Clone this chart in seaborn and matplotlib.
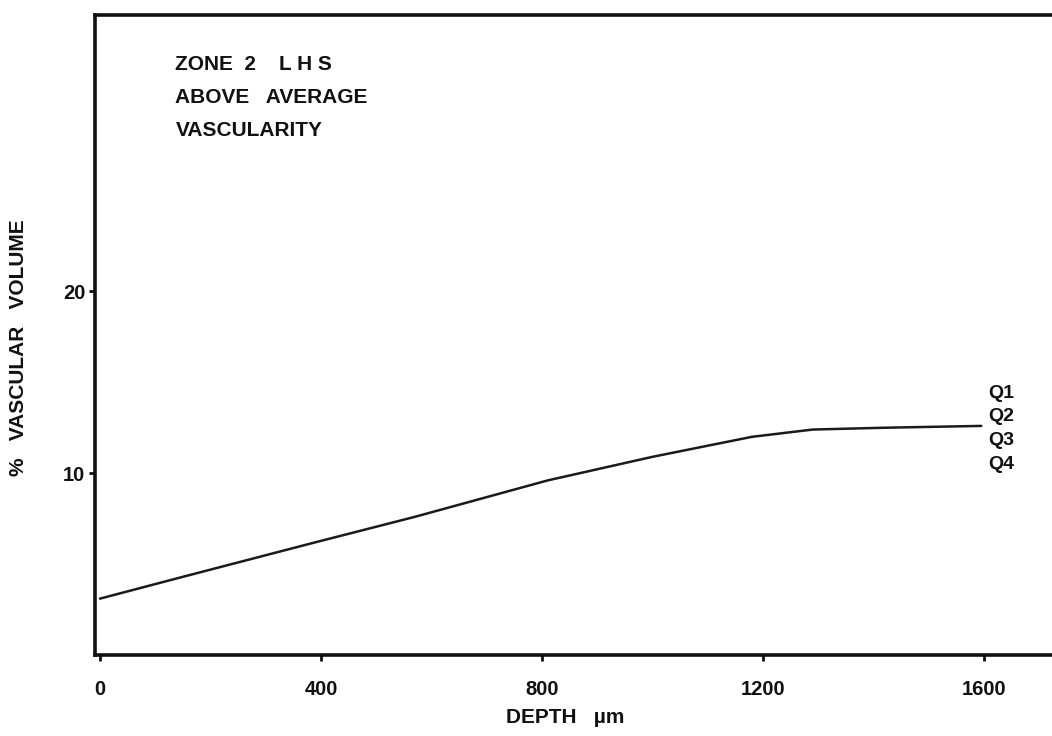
import matplotlib
matplotlib.use("Agg")
import matplotlib.pyplot as plt
import seaborn as sns
import pandas as pd

depth_um = [0, 150, 390, 570, 810, 1000, 1180, 1290, 1420, 1595]
vascular_pct = [3.1, 4.3, 6.2, 7.6, 9.6, 10.9, 12.0, 12.4, 12.5, 12.6]
x_ticks = [0, 400, 800, 1200, 1600]
y_ticks = [10, 20]
quartile_labels = ["Q1", "Q2", "Q3", "Q4"]
title_lines = ["ZONE  2    L H S", "ABOVE   AVERAGE", "VASCULARITY"]

sns.set_theme(style="white")
plt.rcParams['font.family'] = ['Liberation Sans', 'DejaVu Sans']
ink = "#111111"

fig = plt.figure(figsize=(10.52, 7.36), dpi=100)
ax = fig.add_axes([95 / 1052, 1 - 655 / 736, 1 - 95 / 1052, (655 - 15) / 736])

df = pd.DataFrame({"depth": depth_um, "pct": vascular_pct})
sns.lineplot(data=df, x="depth", y="pct", ax=ax, color="#1a1a1a", linewidth=1.8)

ax.set_xlim(-9, 1723)
ax.set_ylim(0, 35.2)
ax.set_xticks(x_ticks)
ax.set_xticklabels([str(t) for t in x_ticks], fontsize=14.5, fontweight="bold", color=ink)
ax.set_yticks(y_ticks)
ax.set_yticklabels([str(t) for t in y_ticks], fontsize=14.5, fontweight="bold", color=ink)
ax.tick_params(axis="both", direction="out", length=4, width=2, color=ink,
               bottom=True, left=True)
ax.tick_params(axis="x", pad=14)
ax.tick_params(axis="y", pad=3)

for side in ["left", "bottom", "top"]:
    ax.spines[side].set_linewidth(2.6)
    ax.spines[side].set_color(ink)
ax.spines["right"].set_visible(False)

ax.set_xlabel("DEPTH   µm", fontsize=15, fontweight="bold", color=ink)
ax.xaxis.set_label_coords((565 - 95) / 957, -(708 - 655) / 640)
ax.set_ylabel("%   VASCULAR   VOLUME", fontsize=15, fontweight="bold", color=ink)
ax.yaxis.set_label_coords(-(95 - 28) / 957, (655 - 348) / 640)

for i, line in enumerate(title_lines):
    ax.text(0.084, 0.922 - i * 0.051, line, transform=ax.transAxes,
            fontsize=15, fontweight="bold", ha="left", va="center", color=ink)

for i, q in enumerate(quartile_labels):
    ax.text(1608, 14.4 - i * 1.3, q, fontsize=14, fontweight="bold",
            ha="left", va="center", color=ink)

fig.savefig("out.png", dpi=100)
